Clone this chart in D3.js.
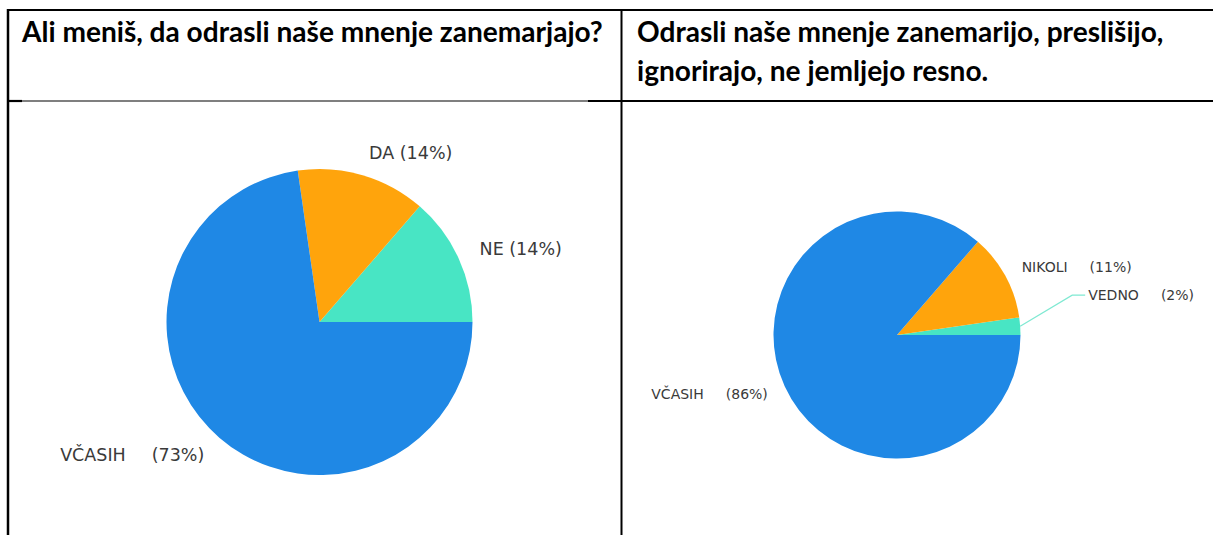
<!DOCTYPE html>
<html lang="sl">
<head>
<meta charset="utf-8">
<title>Mnenje odraslih</title>
<script src="https://cdn.jsdelivr.net/npm/d3@7"></script>
<style>
  html, body { margin: 0; padding: 0; background: #fff; }
  svg { display: block; }
</style>
</head>
<body>
<svg id="chart"></svg>
<script>
// Podatki (število odgovorov, odčitano s slike)
const q1Title = ["Ali meniš, da odrasli naše mnenje zanemarjajo?"];
const q1Categories = ["NE", "DA", "VČASIH"];
const q1Counts = [3, 3, 16];

const q2Title = ["Odrasli naše mnenje zanemarijo, preslišijo,", "ignorirajo, ne jemljejo resno."];
const q2Categories = ["VEDNO", "NIKOLI", "VČASIH"];
const q2Counts = [1, 5, 38];

// Slogi
const sliceColors = { "NE": "#48E5C4", "DA": "#FFA40C", "VEDNO": "#48E5C4", "NIKOLI": "#FFA40C", "VČASIH": "#1F88E5" };
const labelColor = "#3a3a3a";
const headerFont = "Lato, 'Open Sans', sans-serif";
const labelFont = "'DejaVu Sans', Verdana, sans-serif";

const W = 1213, H = 535;
const layout = {
  left: 8, top: 10, mid: 621.5, headerBottom: 101,
  headerX: [22, 637], headerY: 32, headerLine: 39, headerFitWidth: 581
};

const svg = d3.select("#chart").attr("width", W).attr("height", H);

/**
 * Nariše okvir tabele
 */
function drawTable(g) {
  const line = (x1, y1, x2, y2, w) => g.append("line")
    .attr("x1", x1).attr("y1", y1).attr("x2", x2).attr("y2", y2)
    .attr("stroke", "#000").attr("stroke-width", w);

  line(layout.left, layout.top, W, layout.top, 2);
  line(layout.left, layout.top - 1, layout.left, H, 2.5);
  line(layout.mid, layout.top - 1, layout.mid, H, 2);
  // spodnja črta glave – v levi celici delno tanjša
  line(layout.left, layout.headerBottom, 22, layout.headerBottom, 2.2);
  line(22, layout.headerBottom, 588, layout.headerBottom, 1.2);
  line(588, layout.headerBottom, layout.mid, layout.headerBottom, 2.2);
  line(layout.mid, layout.headerBottom, W, layout.headerBottom, 2.2);
}

/**
 * Nariše naslove v glavi tabele; velikost pisave prilagodi širini
 */
function drawHeaders(g) {
  const probe = g.append("text")
    .style("font-family", headerFont).style("font-weight", "700")
    .style("font-size", "22px").text(q1Title[0]);
  const fs = 22 * layout.headerFitWidth / probe.node().getComputedTextLength();
  probe.remove();

  [q1Title, q2Title].forEach((lines, col) => {
    lines.forEach((t, i) => {
      g.append("text")
        .attr("x", layout.headerX[col])
        .attr("y", layout.headerY + i * layout.headerLine)
        .attr("dy", "0.36em")
        .style("font-family", headerFont)
        .style("font-weight", "700")
        .style("font-size", `${fs}px`)
        .style("fill", "#000")
        .text(t);
    });
  });
}

/**
 * Nariše tortni diagram z oznakami
 * @param {Object} opt - središče, polmer in nastavitve oznak
 */
function drawPie(g, categories, counts, opt) {
  const total = d3.sum(counts);
  const data = categories.map((c, i) => ({ name: c, value: counts[i] }));

  // začne se na desni (ob 3h) in teče v nasprotni smeri urinega kazalca
  const pie = d3.pie().value(d => d.value).sort(null)
    .startAngle(Math.PI / 2).endAngle(Math.PI / 2 - 2 * Math.PI);
  const arc = d3.arc().innerRadius(0).outerRadius(opt.r);

  const gp = g.append("g").attr("transform", `translate(${opt.cx}, ${opt.cy})`);
  const arcs = pie(data);

  gp.selectAll("path.slice")
    .data(arcs)
    .join("path")
    .attr("class", "slice")
    .attr("d", arc)
    .attr("fill", d => sliceColors[d.data.name]);

  arcs.forEach(a => {
    const mid = (a.startAngle + a.endAngle) / 2;
    const pct = Math.round(a.data.value / total * 100);
    let x, y, anchor;

    if (a.data.value / total < 0.05) {
      // majhen kos – oznaka s povezovalno črto
      const ex = opt.r * Math.sin(mid), ey = -opt.r * Math.cos(mid);
      const bx = ex + opt.leaderDx, by = ey + opt.leaderDy;
      gp.append("polyline")
        .attr("points", [[ex, ey], [bx, by], [bx + opt.leaderLen, by]].map(p => p.join(",")).join(" "))
        .attr("fill", "none")
        .attr("stroke", "#7fe9d2")
        .attr("stroke-width", 1.2);
      x = bx + opt.leaderLen + 3; y = by; anchor = "start";
    } else {
      const R = opt.r * opt.labelFactor;
      x = R * Math.sin(mid); y = -R * Math.cos(mid);
      anchor = Math.sin(mid) >= 0 ? "start" : "end";
    }

    const t = gp.append("text")
      .attr("x", x).attr("y", y).attr("dy", "0.36em")
      .attr("text-anchor", anchor)
      .style("font-family", labelFont)
      .style("font-size", `${opt.fontSize}px`)
      .style("fill", labelColor);
    t.append("tspan").text(a.data.name);
    t.append("tspan").attr("dx", a.data.name.length > 2 ? opt.gap : opt.fontSize * 0.32).text(`(${pct}%)`);
  });
}

drawTable(svg.append("g").attr("class", "table"));
drawHeaders(svg.append("g").attr("class", "headers"));

drawPie(svg.append("g").attr("class", "pie-1"), q1Categories, q1Counts, {
  cx: 319.5, cy: 322, r: 153, labelFactor: 1.15, fontSize: 17.5, gap: 26
});
drawPie(svg.append("g").attr("class", "pie-2"), q2Categories, q2Counts, {
  cx: 897, cy: 335, r: 123.5, labelFactor: 1.15, fontSize: 14, gap: 22,
  leaderDx: 52, leaderDy: -31, leaderLen: 13
});
</script>
</body>
</html>
